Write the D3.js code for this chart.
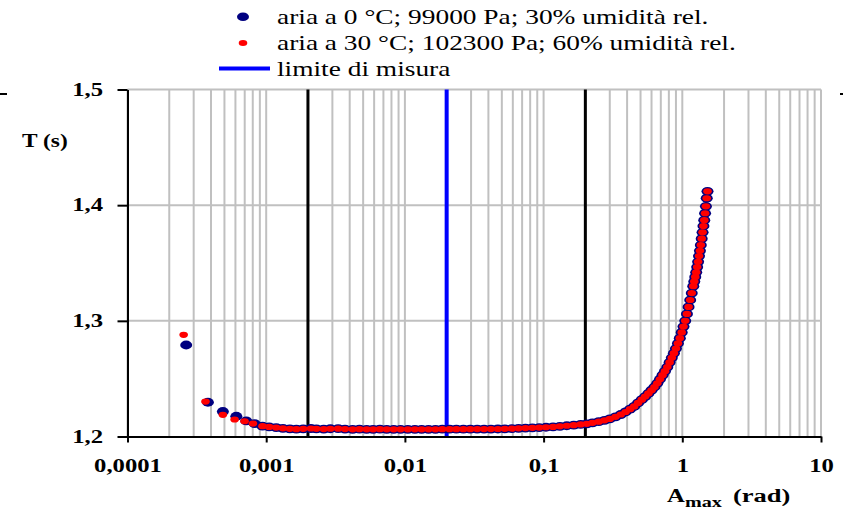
<!DOCTYPE html>
<html>
<head>
<meta charset="utf-8">
<script src="https://cdn.jsdelivr.net/npm/d3@7"></script>
<style>
    body { margin: 0; background: #fff; }
    svg { display: block; font-family: "Liberation Serif", "Times New Roman", serif; }
</style>
</head>
<body>
<div id="chart"></div>
<script>
// Data

const xTicks = [0.0001, 0.001, 0.01, 0.1, 1, 10];
const yTicks = [1.2, 1.3, 1.4, 1.5];
const blackLines = [0.002, 0.2];
const limitLine = 0.02;

const legendLabels = [
    'aria a 0 °C; 99000 Pa; 30% umidità rel.',
    'aria a 30 °C; 102300 Pa; 60% umidità rel.',
    'limite di misura'
];

// few isolated points at very small amplitude
const ampBlueLow = [0.000265, 0.00038, 0.000487, 0.000609, 0.000718, 0.000825];
const periodBlueLow = [1.2791, 1.2296, 1.2216, 1.2175, 1.2135, 1.2112];
const ampRedLow = [0.000254, 0.000365, 0.000487, 0.000592, 0.000698, 0.000802];
const periodRedLow = [1.2879, 1.2302, 1.2187, 1.2147, 1.2132, 1.2112];

// dense part, both series lie on top of each other
const ampDense = [
    0.00094, 0.00105, 0.00118, 0.00132, 0.00148, 0.00165, 0.00185, 0.0021, 0.0023, 0.0026,
    0.0029, 0.0033, 0.0037, 0.0042, 0.0047, 0.0053, 0.0059, 0.0066, 0.0074, 0.0083,
    0.0093, 0.0105, 0.0118, 0.0132, 0.0148, 0.0166, 0.0186, 0.021, 0.0235, 0.0264,
    0.0296, 0.0332, 0.0372, 0.0417, 0.0468, 0.0525, 0.059, 0.066, 0.074, 0.083,
    0.093, 0.104, 0.117, 0.131, 0.147, 0.165, 0.185, 0.205, 0.225, 0.25,
    0.275, 0.30, 0.33, 0.36, 0.39, 0.42, 0.45, 0.48, 0.51, 0.54,
    0.57, 0.60, 0.63, 0.66, 0.69, 0.72, 0.75, 0.78, 0.81, 0.84,
    0.87, 0.90, 0.93, 0.96, 0.99, 1.02, 1.05, 1.08, 1.11, 1.14,
    1.17, 1.20, 1.22, 1.24, 1.26, 1.28, 1.30, 1.32, 1.34, 1.36,
    1.38, 1.40, 1.42, 1.44, 1.46, 1.48, 1.50, 1.52
];
const periodDense = [
    1.2089, 1.2083, 1.2077, 1.2071, 1.2066, 1.2063, 1.2066, 1.2069, 1.2066, 1.2064,
    1.2067, 1.2068, 1.2064, 1.2062, 1.2063, 1.2062, 1.2062, 1.2063, 1.2062, 1.2062,
    1.2062, 1.2062, 1.2062, 1.2062, 1.2062, 1.2062, 1.2063, 1.2063, 1.2063, 1.2063,
    1.2063, 1.2064, 1.2064, 1.2064, 1.2065, 1.2066, 1.2068, 1.2071, 1.2073, 1.2075,
    1.2077, 1.2080, 1.2083, 1.2088, 1.2093, 1.2098, 1.2104, 1.2110, 1.2118, 1.2128,
    1.2140, 1.2152, 1.2170, 1.2190, 1.2212, 1.2236, 1.2260, 1.2290, 1.2318, 1.2345,
    1.2372, 1.2400, 1.2428, 1.2460, 1.2495, 1.2530, 1.2565, 1.2600, 1.2640, 1.2680,
    1.2720, 1.2760, 1.2805, 1.2850, 1.2900, 1.2950, 1.3000, 1.3060, 1.3120, 1.3180,
    1.3240, 1.3300, 1.3340, 1.3380, 1.3420, 1.3465, 1.3510, 1.3560, 1.3605, 1.3655,
    1.3710, 1.3765, 1.3820, 1.3870, 1.3930, 1.3990, 1.4060, 1.4120
];

const blueSeries = ampBlueLow.map((a, i) => ({ a, t: periodBlueLow[i] }))
    .concat(ampDense.map((a, i) => ({ a, t: periodDense[i] })));
const redSeries = ampRedLow.map((a, i) => ({ a, t: periodRedLow[i] }))
    .concat(ampDense.map((a, i) => ({ a, t: periodDense[i] })));

// Layout
const WIDTH = 852, HEIGHT = 512;
const PLOT = { left: 127.5, right: 821, top: 89.5, bottom: 436.5 };
const SX = 1.3;   // the original text is stretched sideways
const NAVY = '#000080', RED = '#ff0000', BLUE = '#0000ff', GRID = '#c0c0c0';

const svg = d3.select('#chart').append('svg')
    .attr('width', WIDTH)
    .attr('height', HEIGHT);

const x = d3.scaleLog()
    .domain([0.0001, 10])
    .range([PLOT.left, PLOT.right]);

const y = d3.scaleLinear()
    .domain([1.2, 1.5])
    .range([PLOT.bottom, PLOT.top]);

const it = d3.formatLocale({ decimal: ',', thousands: '.', grouping: [3], currency: ['', ''] });
const fmtX = it.format('~g');
const fmtY = it.format('.1f');

function label(px, py, str, size, weight, sx) {
    return svg.append('text')
        .attr('transform', `translate(${px},${py}) scale(${sx || SX},1)`)
        .attr('font-size', size)
        .attr('font-weight', weight || 'normal')
        .attr('fill', '#000')
        .text(str);
}

// Grid lines
svg.append('g')
    .selectAll('line')
    .data(x.ticks())
    .enter().append('line')
    .attr('x1', d => x(d)).attr('x2', d => x(d))
    .attr('y1', PLOT.top).attr('y2', PLOT.bottom)
    .attr('stroke', GRID)
    .attr('stroke-width', 2);

svg.append('g')
    .selectAll('line')
    .data(yTicks.slice(1))
    .enter().append('line')
    .attr('x1', PLOT.left).attr('x2', PLOT.right)
    .attr('y1', d => y(d)).attr('y2', d => y(d))
    .attr('stroke', GRID)
    .attr('stroke-width', 2);

// Vertical reference lines
svg.append('g')
    .selectAll('line')
    .data(blackLines)
    .enter().append('line')
    .attr('x1', d => x(d)).attr('x2', d => x(d))
    .attr('y1', PLOT.top).attr('y2', PLOT.bottom)
    .attr('stroke', '#000')
    .attr('stroke-width', 3);

svg.append('line')
    .attr('x1', x(limitLine)).attr('x2', x(limitLine))
    .attr('y1', PLOT.top).attr('y2', PLOT.bottom)
    .attr('stroke', BLUE)
    .attr('stroke-width', 4);

// Axes
const xAxis = svg.append('g')
    .attr('transform', `translate(0,${PLOT.bottom})`)
    .call(d3.axisBottom(x)
        .tickValues(xTicks)
        .tickSize(6)
        .tickSizeOuter(0)
        .tickFormat(fmtX));

const yAxis = svg.append('g')
    .attr('transform', `translate(${PLOT.left},0)`)
    .call(d3.axisLeft(y)
        .tickValues(yTicks)
        .tickSize(10)
        .tickSizeOuter(0)
        .tickFormat(fmtY));

[xAxis, yAxis].forEach(ax => {
    ax.select('.domain').attr('stroke', '#000').attr('stroke-width', 2);
    ax.selectAll('.tick line').attr('stroke', '#000').attr('stroke-width', 2);
    ax.selectAll('.tick text')
        .attr('fill', '#000')
        .attr('font-family', '"Liberation Serif", "Times New Roman", serif')
        .attr('font-weight', 'bold')
        .attr('font-size', 19);
});

xAxis.selectAll('.tick text')
    .attr('y', 35.5)
    .attr('dy', 0)
    .attr('transform', `scale(${SX},1)`);

yAxis.selectAll('.tick text')
    .attr('x', -(PLOT.left - 103) / SX)
    .attr('y', 5.5)
    .attr('dy', 0)
    .attr('transform', `scale(${SX},1)`);

// Axis titles
label(22, 146.5, 'T (s)', 18, 'bold');
label(667, 502, 'A', 19, 'bold');
label(685, 507, 'max', 15.5, 'bold');
label(733, 502, '(rad)', 19.5, 'bold', 1.36);

// small leftover frame marks
svg.append('line').attr('x1', 0).attr('x2', 7).attr('y1', 94).attr('y2', 94)
    .attr('stroke', '#000').attr('stroke-width', 2);
svg.append('line').attr('x1', 840).attr('x2', 843).attr('y1', 94).attr('y2', 94)
    .attr('stroke', '#000').attr('stroke-width', 2);

// Data points
svg.append('g')
    .selectAll('ellipse')
    .data(blueSeries)
    .enter().append('ellipse')
    .attr('cx', d => x(d.a))
    .attr('cy', d => y(d.t))
    .attr('rx', 6)
    .attr('ry', 4.4)
    .attr('fill', NAVY);

svg.append('g')
    .selectAll('ellipse')
    .data(redSeries)
    .enter().append('ellipse')
    .attr('cx', d => x(d.a))
    .attr('cy', d => y(d.t))
    .attr('rx', 4.3)
    .attr('ry', 3.1)
    .attr('fill', RED);

// Legend
const legend = svg.append('g');
legend.append('ellipse')
    .attr('cx', 243).attr('cy', 16.7)
    .attr('rx', 6).attr('ry', 4.3)
    .attr('fill', NAVY);
legend.append('ellipse')
    .attr('cx', 243).attr('cy', 43)
    .attr('rx', 4.3).attr('ry', 3)
    .attr('fill', RED);
legend.append('line')
    .attr('x1', 219).attr('x2', 270)
    .attr('y1', 68.5).attr('y2', 68.5)
    .attr('stroke', BLUE)
    .attr('stroke-width', 4);

legendLabels.forEach((s, i) => {
    label(277, 24 + i * 26, s, 20, 'normal', 1.37);
});
</script>
</body>
</html>
